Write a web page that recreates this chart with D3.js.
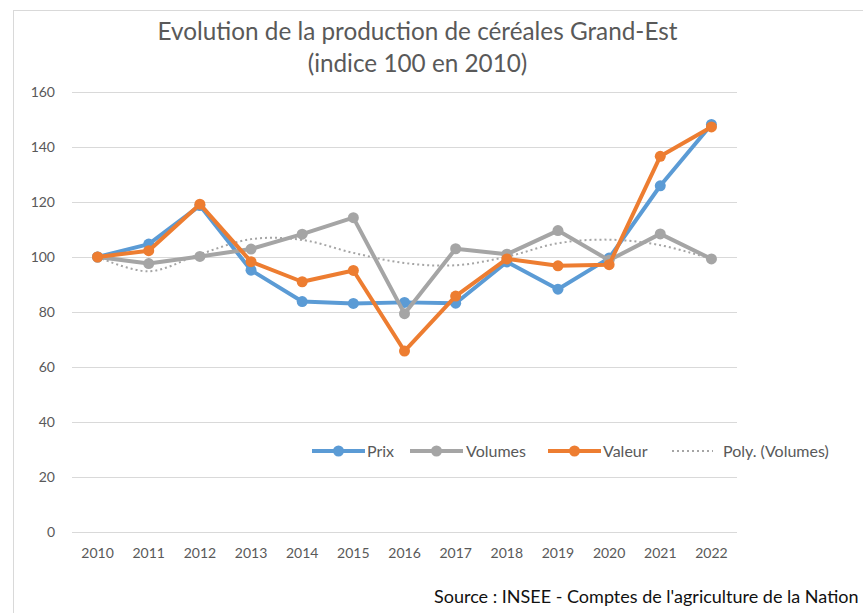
<!DOCTYPE html>
<html><head><meta charset="utf-8">
<script src="https://cdn.jsdelivr.net/npm/d3@7"></script>
<style>body{margin:0;background:#fff}svg{display:block}text{font-family:Lato,"Open Sans",sans-serif}</style>
</head><body><svg id="c" width="863" height="613"></svg>
<script>
const years = ["2010","2011","2012","2013","2014","2015","2016","2017","2018","2019","2020","2021","2022"];
const prix = [100, 104.7, 118.7, 95.2, 83.8, 83.1, 83.5, 83.2, 98.2, 88.3, 99.6, 125.9, 148.2];
const volumes = [100, 97.6, 100.2, 102.9, 108.3, 114.3, 79.4, 103, 101, 109.6, 98.8, 108.4, 99.3];
const valeur = [100, 102.3, 119.2, 98.3, 91, 95.1, 65.8, 85.8, 99.3, 96.8, 97.2, 136.6, 147.3];
const polyVolumes = [100, 94.8, 101, 106.5, 106.2, 101.5, 97.8, 97, 100.1, 105, 106.3, 104.3, 99.3];
const yTicks = [0, 20, 40, 60, 80, 100, 120, 140, 160];
const seriesNames = ["Prix", "Volumes", "Valeur"];
const trendName = "Poly. (Volumes)";

const colors = {Prix:"#5B9BD5", Volumes:"#A5A5A5", Valeur:"#ED7D31"};
const svg = d3.select("#c");
const L = 72, R = 737, T = 92, B = 532;
const x = d3.scaleBand().domain(years).range([L, R]);
const cx = d => x(d) + x.bandwidth()/2;
const y = d3.scaleLinear().domain([0, 160]).range([B, T]);

// frame
svg.append("rect").attr("x",13.5).attr("y",10.5).attr("width",900).attr("height",700)
  .attr("fill","none").attr("stroke","#D9D9D9");

// title
const title = svg.append("text").attr("x",417.5).attr("text-anchor","middle")
  .attr("fill","#595959").attr("font-size",24.3);
title.append("tspan").attr("x",417.5).attr("y",40).text("Evolution de la production de céréales Grand-Est");
title.append("tspan").attr("x",417.5).attr("y",72).text("(indice 100 en 2010)");

// grid
svg.append("g").selectAll("line").data(yTicks).join("line")
  .attr("x1",L).attr("x2",R).attr("y1",d=>y(d)+0.5).attr("y2",d=>y(d)+0.5)
  .attr("stroke","#D9D9D9").attr("stroke-width",1);

// y axis
const ya = svg.append("g").attr("transform",`translate(${L},0)`)
  .call(d3.axisLeft(y).tickValues(yTicks).tickSize(0).tickPadding(17));
ya.select(".domain").remove();
ya.selectAll("text").attr("fill","#595959").attr("font-size",14).attr("font-family","Lato");

// x axis
const xa = svg.append("g").attr("transform",`translate(0,${B})`)
  .call(d3.axisBottom(x).tickSize(0).tickPadding(16));
xa.select(".domain").remove();
xa.selectAll("text").attr("fill","#595959").attr("font-size",14).attr("font-family","Lato");

// trend
const trendLine = d3.line().x((d,i)=>cx(years[i])).y(d=>y(d)).curve(d3.curveCatmullRom);
svg.append("path").attr("d",trendLine(polyVolumes)).attr("fill","none")
  .attr("stroke","#A5A5A5").attr("stroke-width",2).attr("stroke-dasharray","2,3");

const line = d3.line().x((d,i)=>cx(years[i])).y(d=>y(d));
const data = {Prix:prix, Volumes:volumes, Valeur:valeur};
seriesNames.forEach(n=>{
  const g = svg.append("g");
  g.append("path").attr("d",line(data[n])).attr("fill","none")
    .attr("stroke",colors[n]).attr("stroke-width",4).attr("stroke-linejoin","round");
  g.selectAll("circle").data(data[n]).join("circle")
    .attr("cx",(d,i)=>cx(years[i])).attr("cy",d=>y(d)).attr("r",5.5).attr("fill",colors[n]);
});

// legend
const ly = 451;
const legItems = [
  {n:"Prix", x0:312, x1:365, tx:367},
  {n:"Volumes", x0:410, x1:463, tx:466},
  {n:"Valeur", x0:548, x1:601, tx:603}
];
legItems.forEach(it=>{
  svg.append("line").attr("x1",it.x0).attr("x2",it.x1).attr("y1",ly).attr("y2",ly)
    .attr("stroke",colors[it.n]).attr("stroke-width",4);
  svg.append("circle").attr("cx",(it.x0+it.x1)/2).attr("cy",ly).attr("r",5.5).attr("fill",colors[it.n]);
  svg.append("text").attr("x",it.tx).attr("y",ly+6).attr("fill","#595959").attr("font-size",16).text(it.n);
});
svg.append("line").attr("x1",672).attr("x2",713).attr("y1",ly).attr("y2",ly)
  .attr("stroke","#A5A5A5").attr("stroke-width",2).attr("stroke-dasharray","2,3");
svg.append("text").attr("x",723).attr("y",ly+6).attr("fill","#595959").attr("font-size",16).text(trendName);

// source
svg.append("text").attr("x",434).attr("y",603).attr("fill","#111").attr("font-size",18)
  .text("Source : INSEE - Comptes de l'agriculture de la Nation");
</script></body></html>
